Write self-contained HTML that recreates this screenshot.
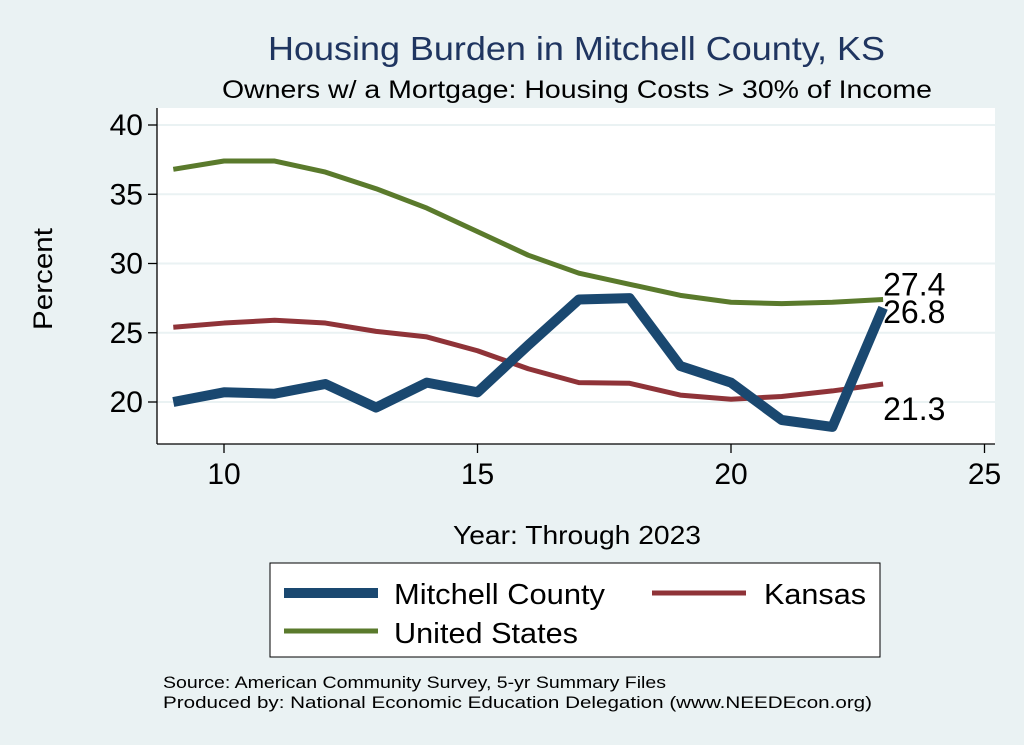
<!DOCTYPE html>
<html><head><meta charset="utf-8"><style>
body{margin:0;background:#eaf2f3;}
svg{display:block;font-family:"Liberation Sans",sans-serif;}
</style></head><body>
<svg id="c" width="1024" height="745">
<rect x="0" y="0" width="1024" height="745" fill="#eaf2f3"/>
<rect x="157" y="108" width="838" height="336" fill="#ffffff"/>
<text x="268" y="60" font-size="33" fill="#1f3560" textLength="617" lengthAdjust="spacingAndGlyphs">Housing Burden in Mitchell County, KS</text>
<text x="222" y="98" font-size="25" fill="#000" textLength="710" lengthAdjust="spacingAndGlyphs">Owners w/ a Mortgage: Housing Costs &gt; 30% of Income</text>
<text x="52" y="330" font-size="27" fill="#000" textLength="102" lengthAdjust="spacingAndGlyphs" transform="rotate(-90 52 330)">Percent</text>
<text x="453" y="544" font-size="26" fill="#000" textLength="248" lengthAdjust="spacingAndGlyphs">Year: Through 2023</text>
<g id="grid"></g><g id="axes"></g><g id="lines"></g><g id="labels"></g>
<rect x="270" y="563" width="610" height="94" fill="#fff" stroke="#000" stroke-width="1"/>
<g><line x1="284" y1="593" x2="378" y2="593" stroke="#1a4870" stroke-width="10"/><text x="394" y="604" font-size="29" textLength="211" lengthAdjust="spacingAndGlyphs">Mitchell County</text></g>
<g><line x1="652" y1="593" x2="746" y2="593" stroke="#8f3338" stroke-width="5"/><text x="764" y="604" font-size="29" textLength="102" lengthAdjust="spacingAndGlyphs">Kansas</text></g>
<g><line x1="284" y1="631" x2="378" y2="631" stroke="#5a7a2c" stroke-width="5"/><text x="394" y="643" font-size="29" textLength="184" lengthAdjust="spacingAndGlyphs">United States</text></g>
<text x="163" y="688" font-size="17" textLength="503" lengthAdjust="spacingAndGlyphs">Source: American Community Survey, 5-yr Summary Files</text>
<text x="163" y="708" font-size="17" textLength="709" lengthAdjust="spacingAndGlyphs">Produced by: National Economic Education Delegation (www.NEEDEcon.org)</text>
</svg>
<script>
const years=[9,10,11,12,13,14,15,16,17,18,19,20,21,22,23];
const mitchell=[20.0,20.7,20.6,21.3,19.6,21.4,20.7,24.1,27.4,27.5,22.6,21.4,18.7,18.2,26.8];
const kansas=[25.4,25.7,25.9,25.7,25.1,24.7,23.7,22.4,21.4,21.35,20.5,20.2,20.4,20.8,21.3];
const us=[36.8,37.4,37.4,36.6,35.4,34.0,32.3,30.6,29.3,28.5,27.7,27.2,27.1,27.2,27.4];
const yTicks=[20,25,30,35,40];
const xTicks=[10,15,20,25];
const NS="http://www.w3.org/2000/svg";
const xs=v=>224+(v-10)*50.7;
const ys=v=>402-(v-20)*13.85;
function mk(t,a,p){const e=document.createElementNS(NS,t);for(const k in a)e.setAttribute(k,a[k]);p.appendChild(e);return e;}
const grid=document.getElementById('grid'),axes=document.getElementById('axes'),lines=document.getElementById('lines'),labels=document.getElementById('labels');
yTicks.forEach(v=>{
 const g=mk('line',{x1:157,x2:995,y1:ys(v),y2:ys(v),stroke:'#eaf2f3','stroke-width':2},grid);
 
 
 const t=mk('line',{x1:148,x2:157,y1:ys(v),y2:ys(v),stroke:'#000','stroke-width':1.3},axes);
 
 
 const l=mk('text',{x:143,y:ys(v)+10,'font-size':30,'text-anchor':'end'},axes);l.textContent=v;
 
 
});
xTicks.forEach(v=>{
 const t=mk('line',{x1:xs(v),x2:xs(v),y1:444,y2:453,stroke:'#000','stroke-width':1.3},axes);
 
 
 const l=mk('text',{x:xs(v),y:484,'font-size':30,'text-anchor':'middle'},axes);l.textContent=v;
 
 
});
const ya=mk('line',{x1:157,x2:157,y1:108,y2:444,stroke:'#000','stroke-width':1.3},axes);


const xa=mk('line',{x1:157,x2:995,y1:444,y2:444,stroke:'#000','stroke-width':1.3},axes);


function series(d,col,w,name){
 const p=mk('polyline',{points:d.map((v,i)=>xs(years[i])+','+ys(v)).join(' '),fill:'none',stroke:col,'stroke-width':w,'stroke-linejoin':'round'},lines);
 
 
}
series(us,'#5a7a2c',5,'line-united-states');
series(kansas,'#8f3338',5,'line-kansas');
series(mitchell,'#1a4870',10,'line-mitchell-county');
const last=years.length-1;
[[us,-4,'end-label-us'],[mitchell,15,'end-label-mitchell'],[kansas,36,'end-label-kansas']].forEach(([d,dy,n])=>{
 const t=mk('text',{x:xs(years[last])+0,y:ys(d[last])+dy,'font-size':32},labels);
 t.textContent=d[last].toFixed(1);
 
 
});
</script>
</body></html>
